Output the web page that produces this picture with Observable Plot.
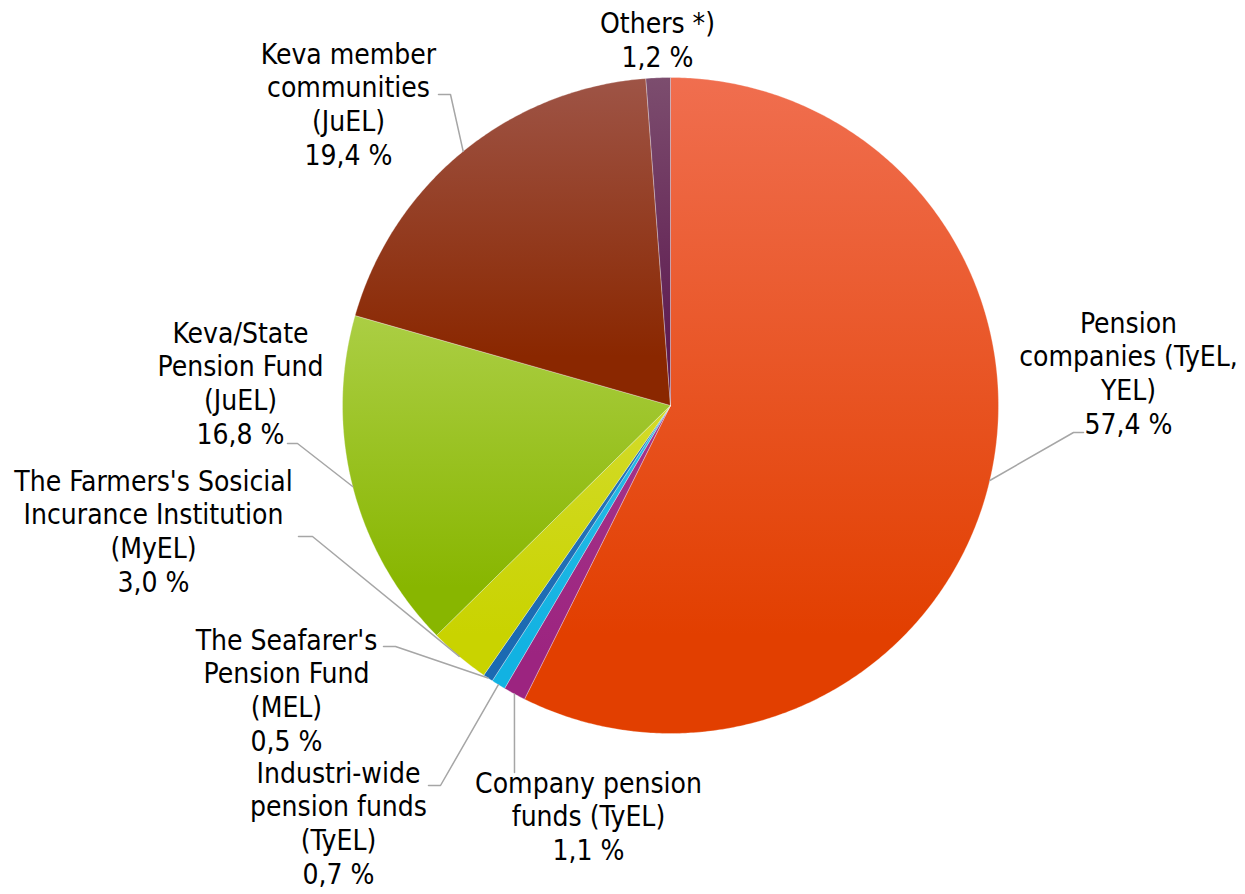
<!DOCTYPE html>
<html><head><meta charset="utf-8">
<script src="https://cdn.jsdelivr.net/npm/d3@7"></script>
<script src="https://cdn.jsdelivr.net/npm/@observablehq/plot@0.6"></script>
<style>body{margin:0;background:#fff}</style>
</head><body><div id="chart"></div>
<script>
// ---- data ----
const categories = ["Pension companies (TyEL, YEL)", "Company pension funds (TyEL)", "Industri-wide pension funds (TyEL)", "The Seafarer's Pension Fund (MEL)", "The Farmers's Sosicial Incurance Institution (MyEL)", "Keva/State Pension Fund (JuEL)", "Keva member communities (JuEL)", "Others *)"];
const labelTexts = ["Pension\ncompanies (TyEL,\nYEL)", "Company pension\nfunds (TyEL)", "Industri-wide\npension funds\n(TyEL)", "The Seafarer's\nPension Fund\n(MEL)", "The Farmers's Sosicial\nIncurance Institution\n(MyEL)", "Keva/State\nPension Fund\n(JuEL)", "Keva member\ncommunities\n(JuEL)", "Others *)"];
const shares = [57.4, 1.1, 0.7, 0.5, 3.0, 16.8, 19.4, 1.2];
const colorsTop = ["#F06E4F", "#A5368A", "#2BBBE6", "#2A78BB", "#D3DB2A", "#ABCE44", "#9E5446", "#7C4D6E"];
const colorsBottom = ["#E23F00", "#9C2480", "#12B2E2", "#1B6AB2", "#C9D300", "#88B600", "#8A2700", "#5E1A50"];

// ---- layout ----
const W = 1245, H = 894;
const cx = 670, cy = 405, R = 328;
const labelCenters = [[1128, 372], [588, 815], [338, 822], [286, 689], [153, 530], [240, 382], [348, 103], [657, 39]];
const leaderElbows = [[1073, 432], [514, 772], [440, 785], [395, 646], [312, 536], [297, 443], [450, 94], null];
const leaderEnds = [[1083, 432], [514, 772], [428, 785], [383, 646], [298, 536], [287, 443], [438, 94], null];

const total = d3.sum(shares);
const fmt = v => v.toFixed(1).replace(".", ",") + " %";
const pt = a => [cx + R * Math.sin(a), cy - R * Math.cos(a)];

let cum = 0;
const slices = shares.map((v, i) => {
  const a0 = cum / total * 2 * Math.PI;
  cum += v;
  const a1 = cum / total * 2 * Math.PI;
  const n = Math.max(2, Math.ceil((a1 - a0) / (Math.PI / 360)));
  const pts = [[cx, cy]];
  for (let k = 0; k <= n; k++) pts.push(pt(a0 + (a1 - a0) * k / n));
  pts.push([cx, cy]);
  return {i, name: categories[i], a0, a1, mid: (a0 + a1) / 2, pts};
});

const sliceMarks = slices.map(s =>
  Plot.line(s.pts, {x: d => d[0], y: d => d[1], fill: `url(#grad${s.i})`, stroke: "white", strokeWidth: 0.5, strokeOpacity: 0.6, curve: "linear"})
);

const leaders = slices.filter(s => leaderElbows[s.i]).map(s => {
  const p = pt(s.mid);
  return [{x: p[0], y: p[1]}, {x: leaderElbows[s.i][0], y: leaderElbows[s.i][1]}, {x: leaderEnds[s.i][0], y: leaderEnds[s.i][1]}];
});
const leaderMarks = leaders.map(l => Plot.line(l, {x: "x", y: "y", stroke: "#A6A6A6", strokeWidth: 1.5}));

const labelData = slices.map(s => ({x: labelCenters[s.i][0], y: labelCenters[s.i][1], text: labelTexts[s.i] + "\n" + fmt(shares[s.i])}));

const chart = Plot.plot({
  width: W, height: H,
  margin: 0,
  x: {domain: [0, W], range: [0, W], axis: null},
  y: {domain: [0, H], range: [0, H], axis: null},
  style: {background: "white"},
  marks: [
    ...sliceMarks,
    ...leaderMarks,
    Plot.text(labelData, {x: "x", y: "y", text: "text", fontSize: 28, lineHeight: 1.2, fill: "black", fontFamily: "'DejaVu Sans Condensed', 'DejaVu Sans', sans-serif", textAnchor: "middle", lineAnchor: "middle"})
  ]
});

// gradient definitions for slices
const defs = d3.select(chart).insert("defs", ":first-child");
slices.forEach(s => {
  const g = defs.append("linearGradient").attr("id", `grad${s.i}`).attr("x1", 0).attr("y1", 0).attr("x2", 0).attr("y2", 1);
  g.append("stop").attr("offset", "0%").attr("stop-color", colorsTop[s.i]);
  g.append("stop").attr("offset", "85%").attr("stop-color", colorsBottom[s.i]);
  g.append("stop").attr("offset", "100%").attr("stop-color", colorsBottom[s.i]);
});
d3.select(chart).selectAll("text").style("font-stretch", "condensed");
document.getElementById("chart").appendChild(chart);
</script>
</body></html>
